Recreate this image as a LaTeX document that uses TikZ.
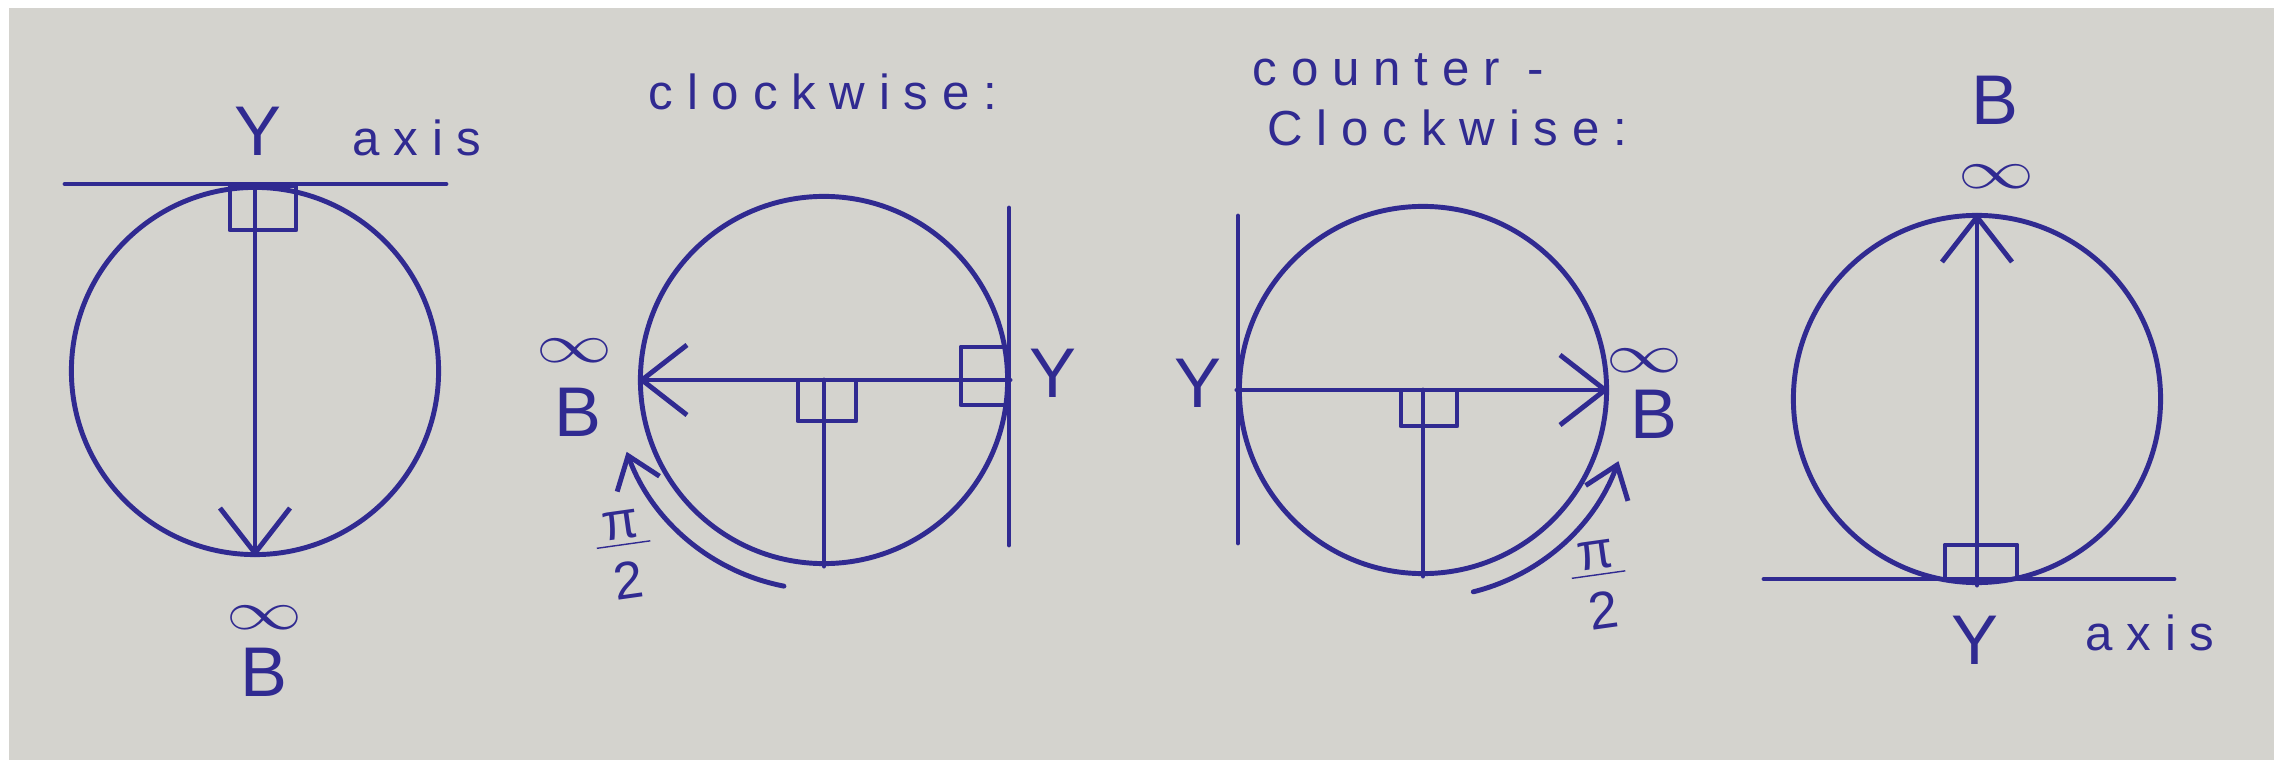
\documentclass[tikz,border=0pt]{standalone}
\usepackage{fontspec}
\setmainfont{Liberation Sans}
\newfontfamily\hand[LetterSpace=28]{Liberation Sans}
\usetikzlibrary{arrows.meta}
\definecolor{ink}{RGB}{48,42,145}
\definecolor{paper}{RGB}{212,211,206}
\begin{document}
\begin{tikzpicture}[x=0.01cm,y=0.01cm,
  pen/.style={draw=ink, line width=1.4pt, line cap=round, line join=round},
  ring/.style={circle, draw=ink, line width=1.4pt, minimum size=3.67cm, inner sep=0pt},
  arr/.style={pen, -{Straight Barb[length=4.5mm,width=7mm]}},
  carr/.style={pen, -{Straight Barb[length=3mm,width=4.5mm]}},
  word/.style={text=ink, font=\hand\fontsize{14}{16}\selectfont, inner sep=0pt},
  sym/.style={text=ink, font=\fontsize{20}{22}\selectfont, inner sep=0pt},
  infty/.style={text=ink, font=\fontsize{17}{18}\selectfont, inner sep=0pt, xscale=1.25, yscale=0.9},
  frac/.style={text=ink, font=\fontsize{15}{15}\selectfont, inner sep=0pt, align=center, rotate=8}]
\useasboundingbox (0,0) rectangle (2274,760);
\fill[paper] (0,0) rectangle (2274,760);
\fill[white] (0,752) rectangle (2274,760);
\fill[white] (0,0) rectangle (9,760);

% ---------- diagram 1 ----------
\node[ring] (c1) at (255,389) {};
\draw[pen] (65,576) -- (446,576);
\draw[pen] (230,574) rectangle (296,530);
\draw[arr] (c1.north) -- (c1.south);
\node[sym] (y1) at (258,629) {Y};
\node[word] (ax1) at (417,622) {axis};
\node[infty] (inf1) at (264,142) {$\infty$};
\node[sym] (b1) at (264,88) {B};

% ---------- diagram 2 ----------
\node[word] (t2) at (823,668) {clockwise:};
\node[ring] (c2) at (824,380) {};
\draw[pen] (1009,552) -- (1009,215);
\draw[pen] (961,413) rectangle (1007,355);
\draw[pen] (798,380) rectangle (856,339);
\draw[arr] (c2.east) -- (c2.west);
\draw[pen] (c2.center) -- (c2.south);
\draw[carr] ([shift={(259:210)}]c2.center) arc[start angle=259,end angle=200,radius=210];
\node[infty] (inf2) at (574,409) {$\infty$};
\node[sym] (b2) at (578,348) {B};
\node[sym] (y2) at (1053,387) {Y};
\node[frac] (p2) at (625,205) {\underline{\,π\,}\\[2pt]2};

% ---------- diagram 3 ----------
\node[word, anchor=west] (t3a) at (1252,690) {counter -};
\node[word, anchor=west] (t3b) at (1267,632) {Clockwise:};
\node[ring] (c3) at (1423,370) {};
\draw[pen] (1238,544) -- (1238,217);
\draw[pen] (1401,370) rectangle (1457,334);
\draw[arr] (c3.west) -- (c3.east);
\draw[pen] (c3.center) -- (c3.south);
\draw[carr] ([shift={(-76:208)}]c3.center) arc[start angle=-76,end angle=-20,radius=208];
\node[sym] (y3) at (1198,377) {Y};
\node[infty] (inf3) at (1644,399) {$\infty$};
\node[sym] (b3) at (1654,346) {B};
\node[frac] (p3) at (1600,175) {\underline{\,π\,}\\[2pt]2};

% ---------- diagram 4 ----------
\node[ring] (c4) at (1977,361) {};
\draw[pen] (1764,181) -- (2174,181);
\draw[pen] (1945,181) rectangle (2017,215);
\draw[arr] (c4.south) -- (c4.north);
\node[sym] (b4) at (1995,660) {B};
\node[infty] (inf4) at (1996,583) {$\infty$};
\node[sym] (y4) at (1975,120) {Y};
\node[word] (ax4) at (2150,127) {axis};
\end{tikzpicture}
\end{document}
